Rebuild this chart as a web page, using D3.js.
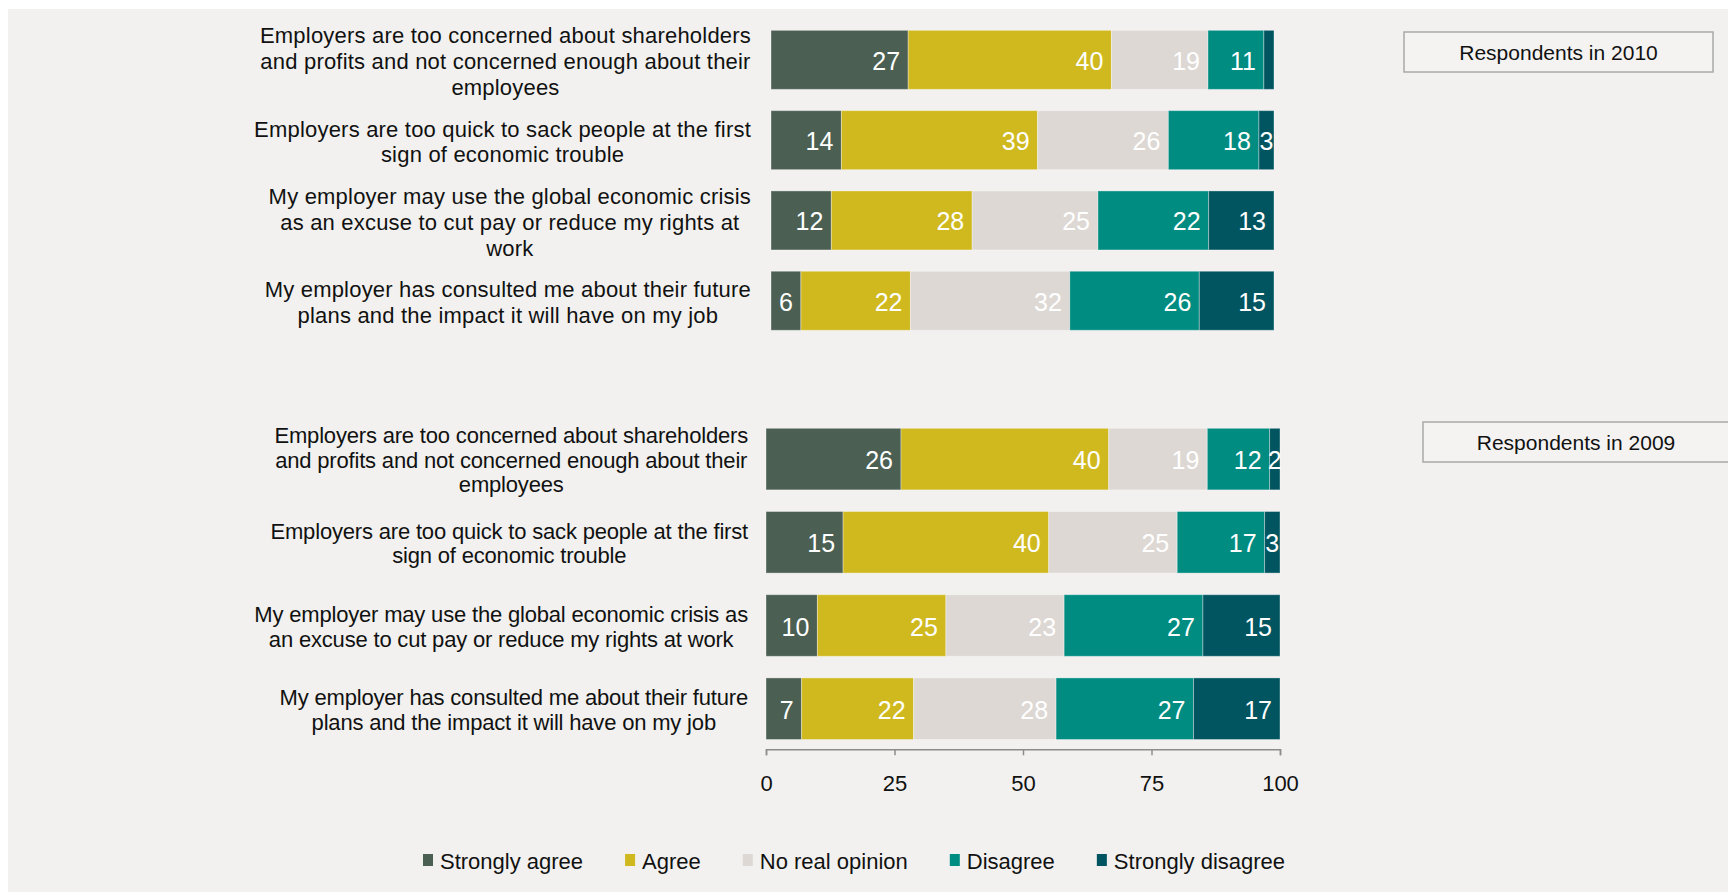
<!DOCTYPE html>
<html>
<head>
<meta charset="utf-8">
<script src="https://cdn.jsdelivr.net/npm/d3@7"></script>
<style>
  body { margin: 0; background: #ffffff; }
  svg { display: block; }
  text { font-family: "Liberation Sans", Arial, Helvetica, sans-serif; }
</style>
</head>
<body>
<svg id="chart" width="1728" height="892"></svg>
<script>
// ---- Data -------------------------------------------------------------
const seriesNames = ["Strongly agree", "Agree", "No real opinion", "Disagree", "Strongly disagree"];
const seriesKeys = ["sa", "a", "n", "d", "sd"];
const seriesColors = ["#4b5f53", "#d0b91f", "#ddd8d4", "#008c81", "#005560"];

const statements2010 = [
  ["Employers are too concerned about shareholders", "and profits and not concerned enough about their", "employees"],
  ["Employers are too quick to sack people at the first", "sign of economic trouble"],
  ["My employer may use the global economic crisis", "as an excuse to cut pay or reduce my rights at", "work"],
  ["My employer has consulted me about their future", "plans and the impact it will have on my job"]
];
const statements2009 = [
  ["Employers are too concerned about shareholders", "and profits and not concerned enough about their", "employees"],
  ["Employers are too quick to sack people at the first", "sign of economic trouble"],
  ["My employer may use the global economic crisis as", "an excuse to cut pay or reduce my rights at work"],
  ["My employer has consulted me about their future", "plans and the impact it will have on my job"]
];

// Respondents in 2010 (%)
const stronglyAgree2010    = [27, 14, 12, 6];
const agree2010            = [40, 39, 28, 22];
const noOpinion2010        = [19, 26, 25, 32];
const disagree2010         = [11, 18, 22, 26];
const stronglyDisagree2010 = [2, 3, 13, 15];

// Respondents in 2009 (%)
const stronglyAgree2009    = [26, 15, 10, 7];
const agree2009            = [40, 40, 25, 22];
const noOpinion2009        = [19, 25, 23, 28];
const disagree2009         = [12, 17, 27, 27];
const stronglyDisagree2009 = [2, 3, 15, 17];

// segments whose value is not printed ("row-series")
const unlabelled2010 = ["0-sd"];
const unlabelled2009 = [];

const axisTicks = [0, 25, 50, 75, 100];
const panelTitles = ["Respondents in 2010", "Respondents in 2009"];

// ---- Drawing ----------------------------------------------------------
const svg = d3.select("#chart");

svg.append("rect")
  .attr("x", 8).attr("y", 9)
  .attr("width", 1720).attr("height", 883)
  .attr("fill", "#f2f1ef");

function buildRows(statements, cols) {
  return statements.map((s, i) => ({
    id: i, lines: s,
    sa: cols[0][i], a: cols[1][i], n: cols[2][i], d: cols[3][i], sd: cols[4][i]
  }));
}

function drawPanel(opt) {
  const rows = buildRows(opt.statements, opt.cols);
  const stack = d3.stack().keys(seriesKeys).offset(d3.stackOffsetExpand);
  const layers = stack(rows);

  const x = d3.scaleLinear().domain([0, 100]).range(opt.xRange);
  const y = d3.scaleBand().domain(rows.map(r => r.id)).range(opt.yRange)
    .paddingInner(opt.pad).paddingOuter(opt.pad / 2);

  const g = svg.append("g");

  const layerG = g.selectAll("g.layer").data(layers).join("g")
    .attr("class", "layer")
    .attr("fill", (d, i) => seriesColors[i]);

  layerG.selectAll("rect").data(d => d).join("rect")
    .attr("x", d => x(d[0] * 100))
    .attr("y", d => y(d.data.id))
    .attr("width", d => x(d[1] * 100) - x(d[0] * 100))
    .attr("height", y.bandwidth())
    .attr("stroke", "rgba(255,255,255,0.35)")
    .attr("stroke-width", 1);

  // value labels: inside end of each segment, centred when the segment is too narrow
  layers.forEach(layer => {
    g.append("g").selectAll("text")
      .data(layer.filter(d => !opt.unlabelled.includes(d.data.id + "-" + layer.key)))
      .join("text")
      .attr("y", d => y(d.data.id) + y.bandwidth() / 2 + 10)
      .attr("fill", "#ffffff")
      .attr("font-size", 25)
      .text(d => d.data[layer.key])
      .each(function (d) {
        const x0 = x(d[0] * 100), x1 = x(d[1] * 100);
        const w = this.getComputedTextLength();
        const t = d3.select(this);
        if (w + 2 > x1 - x0) {
          t.attr("x", (x0 + x1) / 2).attr("text-anchor", "middle");
        } else {
          t.attr("x", x1 - 8).attr("text-anchor", "end");
        }
      });
  });

  // statement labels: block right-aligned, lines centred within the block
  rows.forEach(r => {
    const tg = g.append("g");
    const n = r.lines.length;
    const cy = y(r.id) + y.bandwidth() / 2;
    const texts = r.lines.map((line, i) => tg.append("text")
      .attr("font-size", 22)
      .attr("letter-spacing", opt.letterSpacing)
      .attr("fill", "#111111")
      .attr("text-anchor", "middle")
      .attr("y", cy + (i - (n - 1) / 2) * opt.lineHeight + opt.labelDy)
      .text(line));
    const maxW = d3.max(texts, t => t.node().getComputedTextLength());
    texts.forEach(t => t.attr("x", opt.labelRight - maxW / 2));
  });

  // panel title box
  svg.append("rect")
    .attr("x", opt.box[0]).attr("y", opt.box[1])
    .attr("width", opt.box[2]).attr("height", opt.box[3])
    .attr("fill", "#f4f3f1")
    .attr("stroke", "#a9a9a9").attr("stroke-width", 1.5);
  svg.append("text")
    .attr("x", opt.box[0] + opt.box[2] / 2)
    .attr("y", opt.box[1] + 27.5)
    .attr("text-anchor", "middle")
    .attr("font-size", 21)
    .attr("fill", "#111111")
    .text(opt.title);

  if (opt.axis) {
    const axisG = svg.append("g")
      .attr("transform", `translate(0,${opt.yRange[1] - 1})`)
      .call(d3.axisBottom(x).tickValues(axisTicks).tickSize(6).tickPadding(20).tickFormat(d3.format("d")));
    axisG.select(".domain").attr("stroke", "#8c8c8c").attr("stroke-width", 1.5);
    axisG.selectAll(".tick line").attr("stroke", "#8c8c8c").attr("stroke-width", 1.5);
    axisG.selectAll(".tick text")
      .attr("font-size", 22)
      .attr("font-family", '"Liberation Sans", Arial, sans-serif')
      .attr("fill", "#111111");
  }
}

drawPanel({
  statements: statements2010,
  cols: [stronglyAgree2010, agree2010, noOpinion2010, disagree2010, stronglyDisagree2010],
  unlabelled: unlabelled2010,
  xRange: [771, 1274],
  yRange: [19.7, 340.9],
  pad: 0.265,
  labelRight: 751,
  lineHeight: 25.8,
  labelDy: 9.3,
  letterSpacing: 0.2,
  title: panelTitles[0],
  box: [1404, 32, 309, 40],
  axis: false
});

drawPanel({
  statements: statements2009,
  cols: [stronglyAgree2009, agree2009, noOpinion2009, disagree2009, stronglyDisagree2009],
  unlabelled: unlabelled2009,
  xRange: [766, 1280],
  yRange: [417.5, 750.3],
  pad: 0.26,
  labelRight: 748,
  lineHeight: 24.5,
  labelDy: 8.8,
  letterSpacing: -0.18,
  title: panelTitles[1],
  box: [1423, 422, 306, 40],
  axis: true
});

// ---- Legend -----------------------------------------------------------
let lx = 423;
const legend = svg.append("g");
seriesNames.forEach((name, i) => {
  legend.append("rect")
    .attr("x", lx).attr("y", 854)
    .attr("width", 10).attr("height", 12)
    .attr("fill", seriesColors[i]);
  const t = legend.append("text")
    .attr("x", lx + 17)
    .attr("y", 869)
    .attr("font-size", 22)
    .attr("fill", "#111111")
    .text(name);
  const w = t.node().getComputedTextLength();
  lx += 17 + w + 42;
});
</script>
</body>
</html>
